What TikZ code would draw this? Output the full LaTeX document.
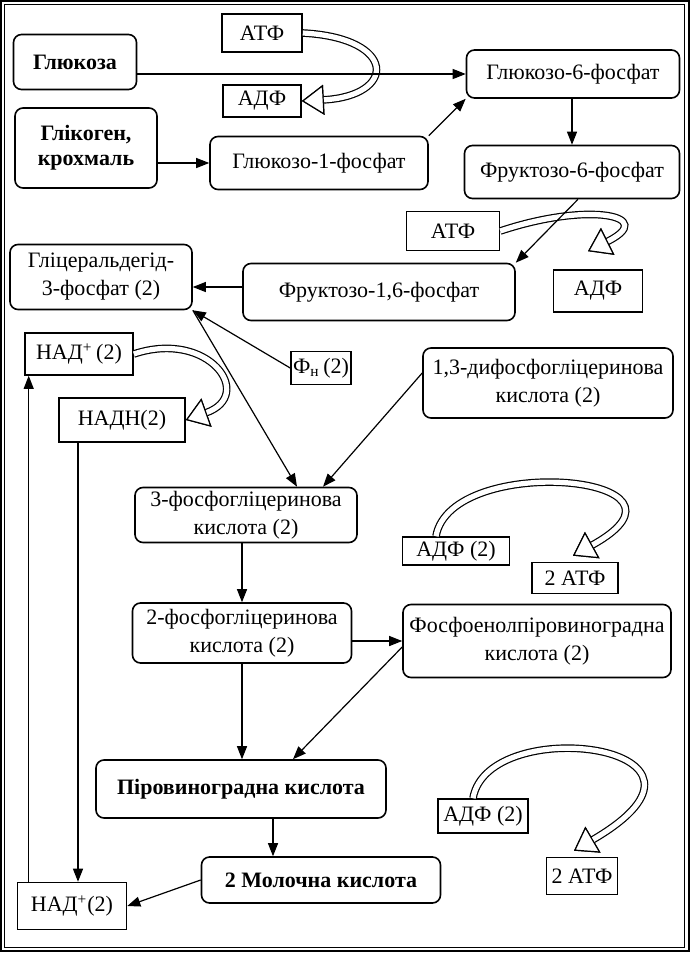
\documentclass[tikz,border=0pt]{standalone}
\usepackage{fontspec}
\setmainfont{Liberation Serif}
\usetikzlibrary{arrows.meta, positioning}

\begin{document}
\begin{tikzpicture}[
    x=0.5pt, y=-0.5pt,
    % GLOBAL CFG
    font=\fontsize{11}{14}\selectfont,
    >={Triangle[length=6.5pt, width=5pt]},
    % Styles
    stage/.style={% For the metabolites
        rectangle,
        rounded corners=4pt,
        draw,
        thick,
        align=center,
        inner sep=1pt,
        },
    main/.style={% For start and end products
        stage,
        font=\fontsize{11}{12.5}\selectfont\bfseries,
        },
    cofactor/.style={% For ATP, ADP, NAD and so on
        rectangle,
        draw,
        thick,
        inner sep=1pt,
        },
    ArrowA/.style={% Plain arrows
        ->,
        semithick,
        },
    ArrowH/.style={% Hollow bent arrows: black band, white core, open head
        draw=white,
        line width=2.6pt,
        -{Triangle[open, color=black, fill=white, line width=0.6pt, length=11pt, width=15pt]},
        preaction={draw=black, line width=3.8pt},
        }
    ]

    \useasboundingbox (0,0) rectangle (690,953);
    % Frame
    \draw [line width=1pt] (1,1) rectangle (689,951);
    \draw [line width=0.5pt] (4,4) rectangle (684,947);

    % Draw the metabolites
    \node [main, minimum width=61.5pt, minimum height=27.5pt] (glu) at (75,62) {Глюкоза};
    \node [main, minimum width=71pt, minimum height=40pt] (gly) at (86,148) {Глікоген,\\крохмаль};
    \node [stage, minimum width=109pt, minimum height=26.5pt] (g1p) at (319,163) {Глюкозо-1-фосфат};
    \node [stage, minimum width=106.5pt, minimum height=24pt] (g6p) at (573,74) {Глюкозо-6-фосфат};
    \node [stage, minimum width=107.5pt, minimum height=26.5pt] (f6p) at (572,172) {Фруктозо-6-фосфат};
    \node [stage, minimum width=136pt, minimum height=28.5pt] (f16p) at (379,292) {Фруктозо-1,6-фосфат};
    \node [stage, minimum width=91pt, minimum height=32.5pt] (gap) at (101,277) {Гліцеральдегід-\\3-фосфат (2)};
    \node [stage, minimum width=125pt, minimum height=35pt] (bpg) at (548,383) {1,3-дифосфогліцеринова\\кислота (2)};
    \node [stage, minimum width=111pt, minimum height=27.5pt] (pg3) at (246,515) {3-фосфогліцеринова\\кислота (2)};
    \node [stage, minimum width=109.5pt, minimum height=30pt] (pg2) at (242,633) {2-фосфогліцеринова\\кислота (2)};
    \node [stage, minimum width=134pt, minimum height=36.5pt] (pep) at (537,641) {Фосфоенолпіровиноградна\\кислота (2)};
    \node [main, minimum width=145pt, minimum height=29pt] (pyr) at (241,789) {Піровиноградна кислота};
    \node [main, minimum width=119.5pt, minimum height=23pt] (lac) at (321,880) {2 Молочна кислота};

    % Draw the cofactors
    \node [cofactor, minimum width=40pt, minimum height=19pt] (atp1) at (262,33) {АТФ};
    \node [cofactor, minimum width=39pt, minimum height=16pt] (adp1) at (262,101) {АДФ};
    \node [cofactor, minimum width=46.5pt, minimum height=19.5pt] (atp2) at (453,231) {АТФ};
    \node [cofactor, minimum width=44.5pt, minimum height=21pt] (adp2) at (598,291) {АДФ};
    \node [cofactor, minimum width=54pt, minimum height=21pt] (nad1) at (79,354) {НАД\textsuperscript{+}\,(2)};
    \node [cofactor, minimum width=63pt, minimum height=22pt] (nadh) at (122,420) {НАДН(2)};
    \node [cofactor, minimum width=29pt, minimum height=16.5pt] (pi) at (321,368) {Ф\textsubscript{н}\,(2)};
    \node [cofactor, minimum width=53.5pt, minimum height=14pt] (adp3) at (456,551) {АДФ (2)};
    \node [cofactor, minimum width=43pt, minimum height=15.5pt] (atp3) at (575,578) {2 АТФ};
    \node [cofactor, minimum width=45pt, minimum height=17pt] (adp4) at (483,816) {АДФ (2)};
    \node [cofactor, minimum width=35.5pt, minimum height=18.5pt] (atp4) at (582,876) {2 АТФ};
    \node [cofactor, minimum width=54.5pt, minimum height=23.5pt] (nad2) at (72,906) {НАД\textsuperscript{+}(2)};

% Start connecting all.
    % Hollow arrows first, so the lines cross over them
    \draw [ArrowH] (atp1.east) .. controls +(95,5) and +(95,-5) .. (adp1.east);
    \draw [ArrowH] (atp2.east) .. controls +(90,-30) and +(70,-35) .. ([xshift=-5pt, yshift=9pt]adp2.north);
    \draw [ArrowH] (nad1.east) .. controls +(75,-25) and +(70,-25) .. (nadh.east);
    \draw [ArrowH] ([xshift=-10pt]adp3.north) .. controls +(15,-85) and +(145,-80) .. ([xshift=-1pt, yshift=3pt]atp3.north);
    \draw [ArrowH] ([xshift=-5pt]adp4.north) .. controls +(15,-87) and +(180,-105) .. ([xshift=-4pt, yshift=3pt]atp4.north);

    % Upper part
    \draw [ArrowA] (glu.east |- g6p.west) -- (g6p.west);
    \draw [ArrowA] (gly.east |- g1p.west) -- (g1p.west);
    \draw [ArrowA] (g1p.north east) -- (g6p.south west);
    \draw [ArrowA] (g6p.south -| f6p.north) -- (f6p.north);
    \draw [ArrowA] ([xshift=3pt]f6p.south) -- (f16p.north east);
    \draw [ArrowA] ([yshift=2.5pt]f16p.west) -- ([yshift=2.5pt]f16p.west -| gap.east);
    \draw [ArrowA] (pi.west) -- (gap.south east);

    % Middle part
    \draw [ArrowA] (gap.south east) -- ([xshift=25.5pt]pg3.north);
    \draw [ArrowA] ([yshift=5pt]bpg.west) -- ([xshift=38.5pt]pg3.north);
    \draw [ArrowA] (pg3.south -| pg2.north) -- (pg2.north);
    \draw [ArrowA] (pg2.east |- pep.west) -- (pep.west);

    % Lower part
    \draw [ArrowA] (pg2.south) -- (pg2.south |- pyr.north);
    \draw [ArrowA] ([yshift=-3pt]pep.west) -- ([xshift=26pt]pyr.north);
    \draw [ArrowA] ([xshift=16pt]pyr.south) -- ([xshift=16pt]pyr.south |- lac.north);
    \draw [ArrowA] (lac.west) -- (nad2.east);

    % NAD cycle
    \draw [ArrowA] ([xshift=3pt]nad2.north |- nadh.south) -- ([xshift=3pt]nad2.north);
    \draw [ArrowA] ([xshift=6pt]nad2.north west) -- ([xshift=6pt]nad2.north west |- nad1.south);

\end{tikzpicture}
\end{document}
